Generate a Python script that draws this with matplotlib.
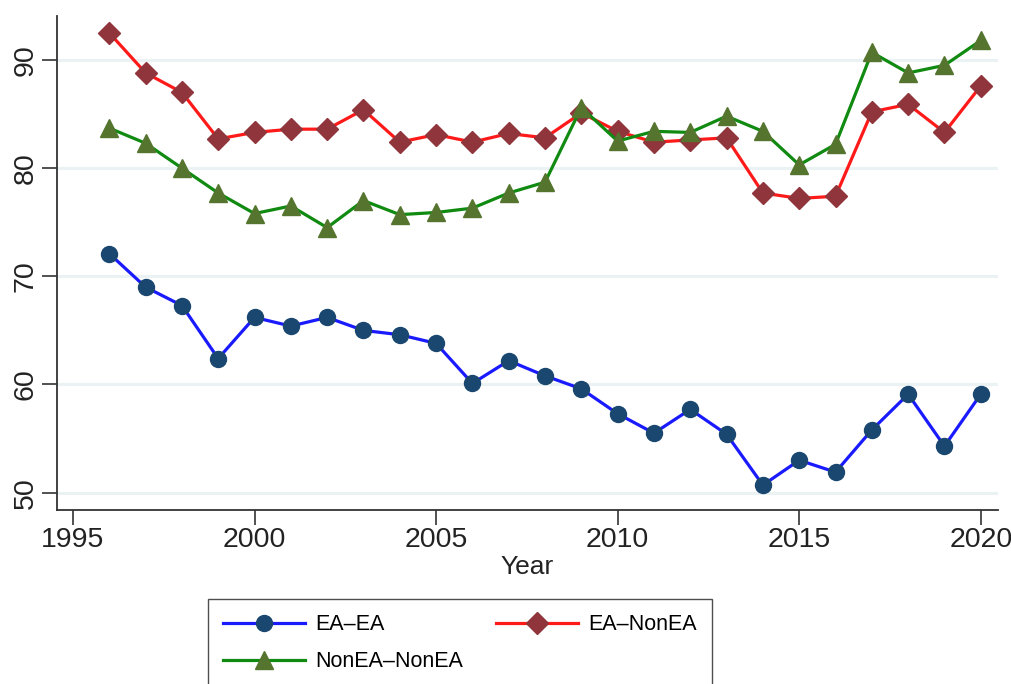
import numpy as np
import matplotlib.pyplot as plt

years = list(range(1996, 2021))
ea_ea = [72.1, 69.0, 67.3, 62.4, 66.2, 65.4, 66.2, 65.0, 64.6, 63.8, 60.1, 62.2, 60.8,
         59.6, 57.3, 55.5, 57.7, 55.4, 50.7, 53.0, 51.9, 55.8, 59.1, 54.3, 59.1]
ea_nonea = [92.5, 88.8, 87.0, 82.7, 83.3, 83.6, 83.6, 85.4, 82.4, 83.1, 82.4, 83.2, 82.8,
            85.1, 83.4, 82.4, 82.6, 82.8, 77.7, 77.2, 77.4, 85.2, 85.9, 83.3, 87.6]
nonea_nonea = [83.7, 82.3, 80.0, 77.7, 75.8, 76.5, 74.5, 77.0, 75.7, 75.9, 76.3, 77.7, 78.7,
               85.6, 82.5, 83.4, 83.3, 84.8, 83.4, 80.3, 82.2, 90.7, 88.8, 89.5, 91.8]

x_ticks = [1995, 2000, 2005, 2010, 2015, 2020]
y_ticks = [50, 60, 70, 80, 90]

plt.rcParams['font.family'] = ['Liberation Sans', 'DejaVu Sans']

fig = plt.figure(figsize=(10.12, 6.84), dpi=100)
ax = fig.add_axes([0.0563, 0.2544, 0.9297, 0.7222])

# horizontal grid like stata
for y in y_ticks:
    ax.axhline(y, color='#eaf2f3', lw=2.2, zorder=0)

l1, = ax.plot(years, ea_ea, color='#1a1aff', lw=2.3, marker='o', ms=11.5,
              mfc='#1a476f', mec='#1a476f', label='EA–EA', zorder=3)
l2, = ax.plot(years, ea_nonea, color='#ff1a1a', lw=2.3, marker='D', ms=11,
              mfc='#90353b', mec='#90353b', label='EA–NonEA', zorder=3)
l3, = ax.plot(years, nonea_nonea, color='#108a10', lw=2.3, marker='^', ms=13,
              mfc='#55752f', mec='#55752f', label='NonEA–NonEA', zorder=3)

ax.set_xlim(1994.56, 2020.47)
ax.set_ylim(48.4, 94.06)
ax.set_xticks(x_ticks)
ax.set_yticks(y_ticks)
ax.set_xlabel('Year', fontsize=19, color='#222222', labelpad=2)

for s in ['top', 'right']:
    ax.spines[s].set_visible(False)
for s in ['left', 'bottom']:
    ax.spines[s].set_color('#333333')
    ax.spines[s].set_linewidth(1.3)

ax.tick_params(axis='both', length=11, width=1.2, color='#333333',
               labelsize=20.5, labelcolor='#222222')
ax.tick_params(axis='x', pad=1)
ax.tick_params(axis='y', pad=2)
for lab in ax.get_yticklabels():
    lab.set_rotation(90)
    lab.set_va('center')

# column-major fill: EA-EA, NonEA-NonEA in first column
fig.legend([l1, l3, l2], ['EA–EA', 'NonEA–NonEA', 'EA–NonEA'],
           loc='upper left', bbox_to_anchor=(208 / 1012, 1 - 599 / 684), ncol=2,
           fontsize=15.5, frameon=True, fancybox=False, edgecolor='#222222',
           handlelength=3.8, columnspacing=1.5, borderpad=0.7, labelspacing=0.75,
           handletextpad=0.5, borderaxespad=0)
leg = fig.legends[0]
leg._legend_box.sep = 0

fig.savefig('out.png', dpi=100)
